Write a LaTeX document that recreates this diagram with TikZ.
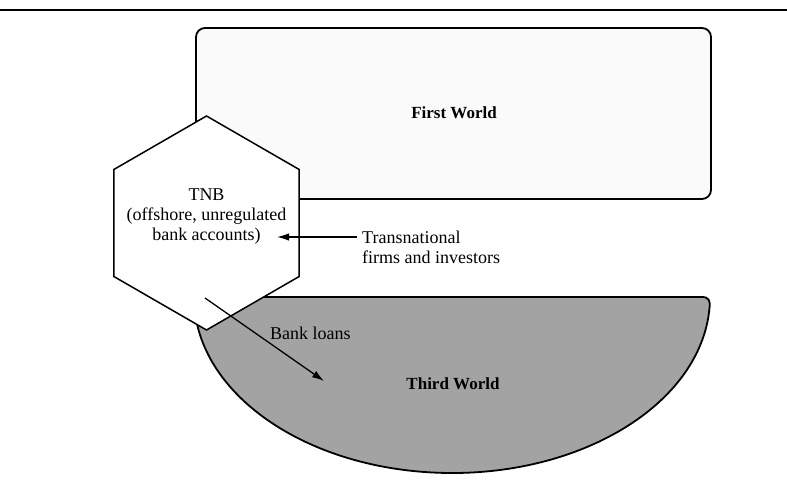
\documentclass[tikz,border=0pt]{standalone}
\usepackage{fontspec}
\setmainfont{Liberation Serif}
\usetikzlibrary{shapes.geometric,arrows.meta}
\begin{document}
\begin{tikzpicture}[x=1pt,y=-1pt,
  shapeline/.style={line width=1.8pt},
  lbl/.style={font=\fontsize{18}{20}\selectfont, inner sep=0pt},
  blbl/.style={font=\fontsize{17}{20}\selectfont\bfseries, inner sep=0pt},
  flow/.style={line width=1.3pt, -{Latex[length=12pt,width=7.5pt]}}]
\useasboundingbox (0,0) rectangle (787,486);
% top rule
\draw[line width=1.6pt] (0,10) -- (787,10);
% First World
\node[shapeline, draw, fill=black!2, rounded corners=9pt, minimum width=515pt, minimum height=171pt, inner sep=0pt] (fw) at (453.5,113.5) {};
% Third World
\path[shapeline, draw, fill=black!36] (194,297) -- (702,297) .. controls (709,297) and (710.5,301) .. (709.5,308)
  arc[start angle=-3.58, end angle=-180, x radius=258pt, y radius=176pt] -- cycle;
% labels of worlds
\node[blbl] (fwl) at (454,113) {First World};
\node[blbl] (twl) at (453,384) {Third World};
% TNB hexagon
\node[regular polygon, regular polygon sides=6, shape border rotate=30, minimum size=214pt, inner sep=0pt,
  draw, fill=white, line width=1.5pt] (hex) at (206.5,223) {};
\node[lbl, align=center] (tnb) at (206.5,217) {TNB\\(offshore, unregulated\\bank accounts)};
% Transnational
\node[lbl, align=left, anchor=west] (tn) at (362,247) {Transnational\\firms and investors};
\coordinate (tnbin) at (277,237);
\coordinate (tnstart) at (357,237);
\draw[flow] (tnstart) -- (tnbin);
% Bank loans
\node[lbl, anchor=west] (bl) at (270,333) {Bank loans};
\coordinate (blstart) at (205,298);
\coordinate (blend) at (324,381);
\draw[flow] (blstart) -- (blend);
\end{tikzpicture}
\end{document}
